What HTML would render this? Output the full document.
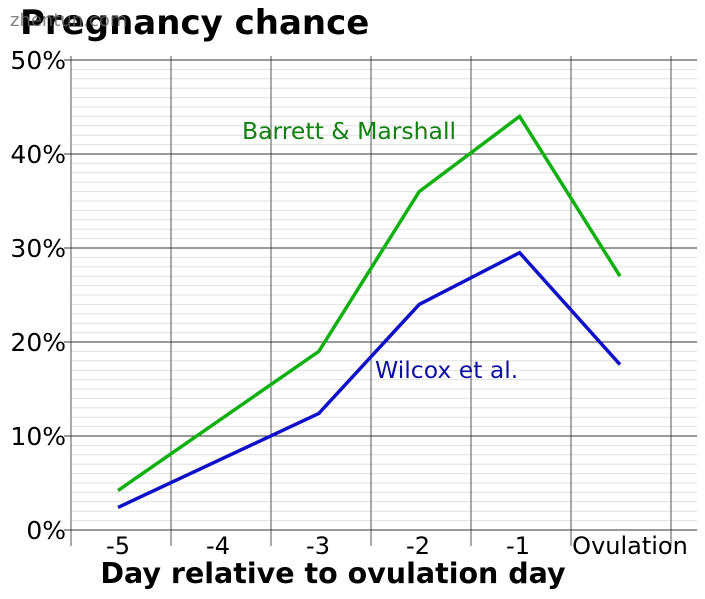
<!DOCTYPE html>
<html><head><meta charset="utf-8"><style>
html,body{margin:0;padding:0;background:#fff;width:705px;height:599px;overflow:hidden;font-family:"DejaVu Sans","Liberation Sans",sans-serif}
</style></head><body>
<svg width="705" height="599">
<g id="grid"></g>
<g id="series"></g>
<text x="20" y="34" font-size="34" font-weight="bold" fill="#000">Pregnancy chance</text>
<text x="10" y="26" font-size="18" fill="#666" opacity="0.8">zhentun.com</text>
<text x="242" y="139" font-size="23.5" fill="#108010">Barrett &amp; Marshall</text>
<text x="375" y="378" font-size="23.5" fill="#1010a0">Wilcox et al.</text>
<text x="333" y="583" font-size="28.5" font-weight="bold" text-anchor="middle" fill="#000">Day relative to ovulation day</text>
</svg>
<script>
const days=[-5,-3,-2,-1,0];
const barrett=[4.2,19,36,44,27];
const wilcox=[2.4,12.4,24,29.5,17.6];
const categoryLabels=["-5","-4","-3","-2","-1","Ovulation"];
const yTicks=[0,10,20,30,40,50];
const NS="http://www.w3.org/2000/svg";
const X=d=>118+(d+5)*100.4;
const Y=v=>530-v*9.4;
const grid=document.getElementById('grid'),ser=document.getElementById('series');
function mk(p,tag,a){const e=document.createElementNS(NS,tag);for(const k in a)e.setAttribute(k,a[k]);p.appendChild(e);return e;}
for(let v=0;v<=50;v++){if(v%10)
{const l=mk(grid,'line',{x1:71,x2:697,y1:Y(v),y2:Y(v),stroke:'#e0e0e0','stroke-width':1});

}}
for(let i=0;i<7;i++){const x=71+i*100;
const l=mk(grid,'line',{x1:x,x2:x,y1:56,y2:546,stroke:'#555','stroke-width':1});

}
yTicks.forEach(v=>{const l=mk(grid,'line',{x1:64,x2:697,y1:Y(v),y2:Y(v),stroke:'#333','stroke-width':1});


const t=mk(grid,'text',{x:66,y:Y(v)+9,'font-size':25,'text-anchor':'end',fill:'#000'});t.textContent=v+'%';

});
categoryLabels.forEach((s,i)=>{const t=mk(grid,'text',{x:i==5?630:118+i*100,y:554,'font-size':24,'text-anchor':'middle',fill:'#000'});t.textContent=s;

});
function line(vals,col,name){const p=mk(ser,'polyline',{points:vals.map((v,i)=>X(days[i])+','+Y(v)).join(' '),fill:'none',stroke:col,'stroke-width':3.5});

}
line(barrett,'#10b010','line-barrett-marshall');
line(wilcox,'#1010c8','line-wilcox');
</script>
</body></html>
